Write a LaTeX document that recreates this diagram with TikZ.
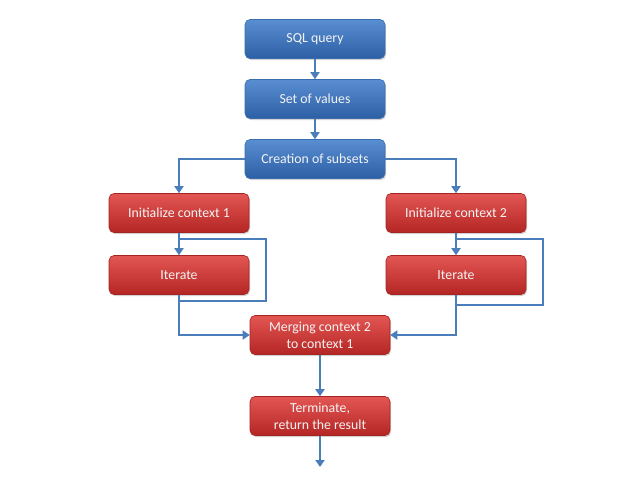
\documentclass[tikz,border=0pt]{standalone}
\usepackage{fontspec}
\setmainfont{Carlito}
\usetikzlibrary{arrows.meta,shadows,calc}
\definecolor{lineblue}{HTML}{4A7EBB}
\definecolor{bluetop}{HTML}{5A8ED2}
\definecolor{bluebot}{HTML}{2C5FA3}
\definecolor{blueedge}{HTML}{3A6CAE}
\definecolor{redtop}{HTML}{E25654}
\definecolor{redbot}{HTML}{B42624}
\definecolor{rededge}{HTML}{A52422}
\definecolor{boxtext}{HTML}{F4F4F4}
\tikzset{
  box/.style={minimum width=140pt, minimum height=39pt, rounded corners=5pt,
    text=boxtext, font=\fontsize{13.8}{17}\selectfont, align=center, inner sep=1pt,
    drop shadow={shadow xshift=1pt, shadow yshift=-1.5pt, opacity=0.35}},
  bluebox/.style={box, draw=blueedge, line width=0.6pt, top color=bluetop, bottom color=bluebot},
  redbox/.style={box, draw=rededge, line width=0.6pt, top color=redtop, bottom color=redbot},
  conn/.style={draw=lineblue, line width=1.8pt, -{Triangle[length=7pt,width=9pt]}},
  loopline/.style={draw=lineblue, line width=1.4pt},
}
\begin{document}
\begin{tikzpicture}[x=1pt,y=-1pt]
\useasboundingbox[fill=white] (0,0) rectangle (640,480);
\node[bluebox] (sql) at (315,39) {SQL query};
\node[bluebox] (set) at (315,99) {Set of values};
\node[bluebox] (cre) at (315,159) {Creation of subsets};
\node[redbox] (i1) at (179,213) {Initialize context 1};
\node[redbox] (it1) at (179,275) {Iterate};
\node[redbox] (i2) at (456,213) {Initialize context 2};
\node[redbox] (it2) at (456,275) {Iterate};
\node[redbox] (mrg) at (320,335) {Merging context 2\\to context 1};
\node[redbox] (ter) at (320,416) {Terminate,\\return the result};
\coordinate (endp) at (320,467);
\coordinate (l1a) at (266,239);
\coordinate (l1b) at (266,301);
\coordinate (l2a) at (543,239);
\coordinate (l2b) at (543,305);

\draw[conn] (sql) -- (set);
\draw[conn] (set) -- (cre);
\draw[conn] (cre.west) -| (i1.north);
\draw[conn] (cre.east) -| (i2.north);
\draw[loopline] (i1.south |- l1a) -- (l1a) -- (l1b) -- (it1.south |- l1b);
\draw[loopline] (i2.south |- l2a) -- (l2a) -- (l2b) -- (it2.south |- l2b);
\draw[conn] (i1) -- (it1);
\draw[conn] (i2) -- (it2);
\draw[conn] (it1.south) |- (mrg.west);
\draw[conn] (it2.south) |- (mrg.east);
\draw[conn] (mrg) -- (ter);
\draw[conn] (ter) -- (endp);
\end{tikzpicture}
\end{document}
